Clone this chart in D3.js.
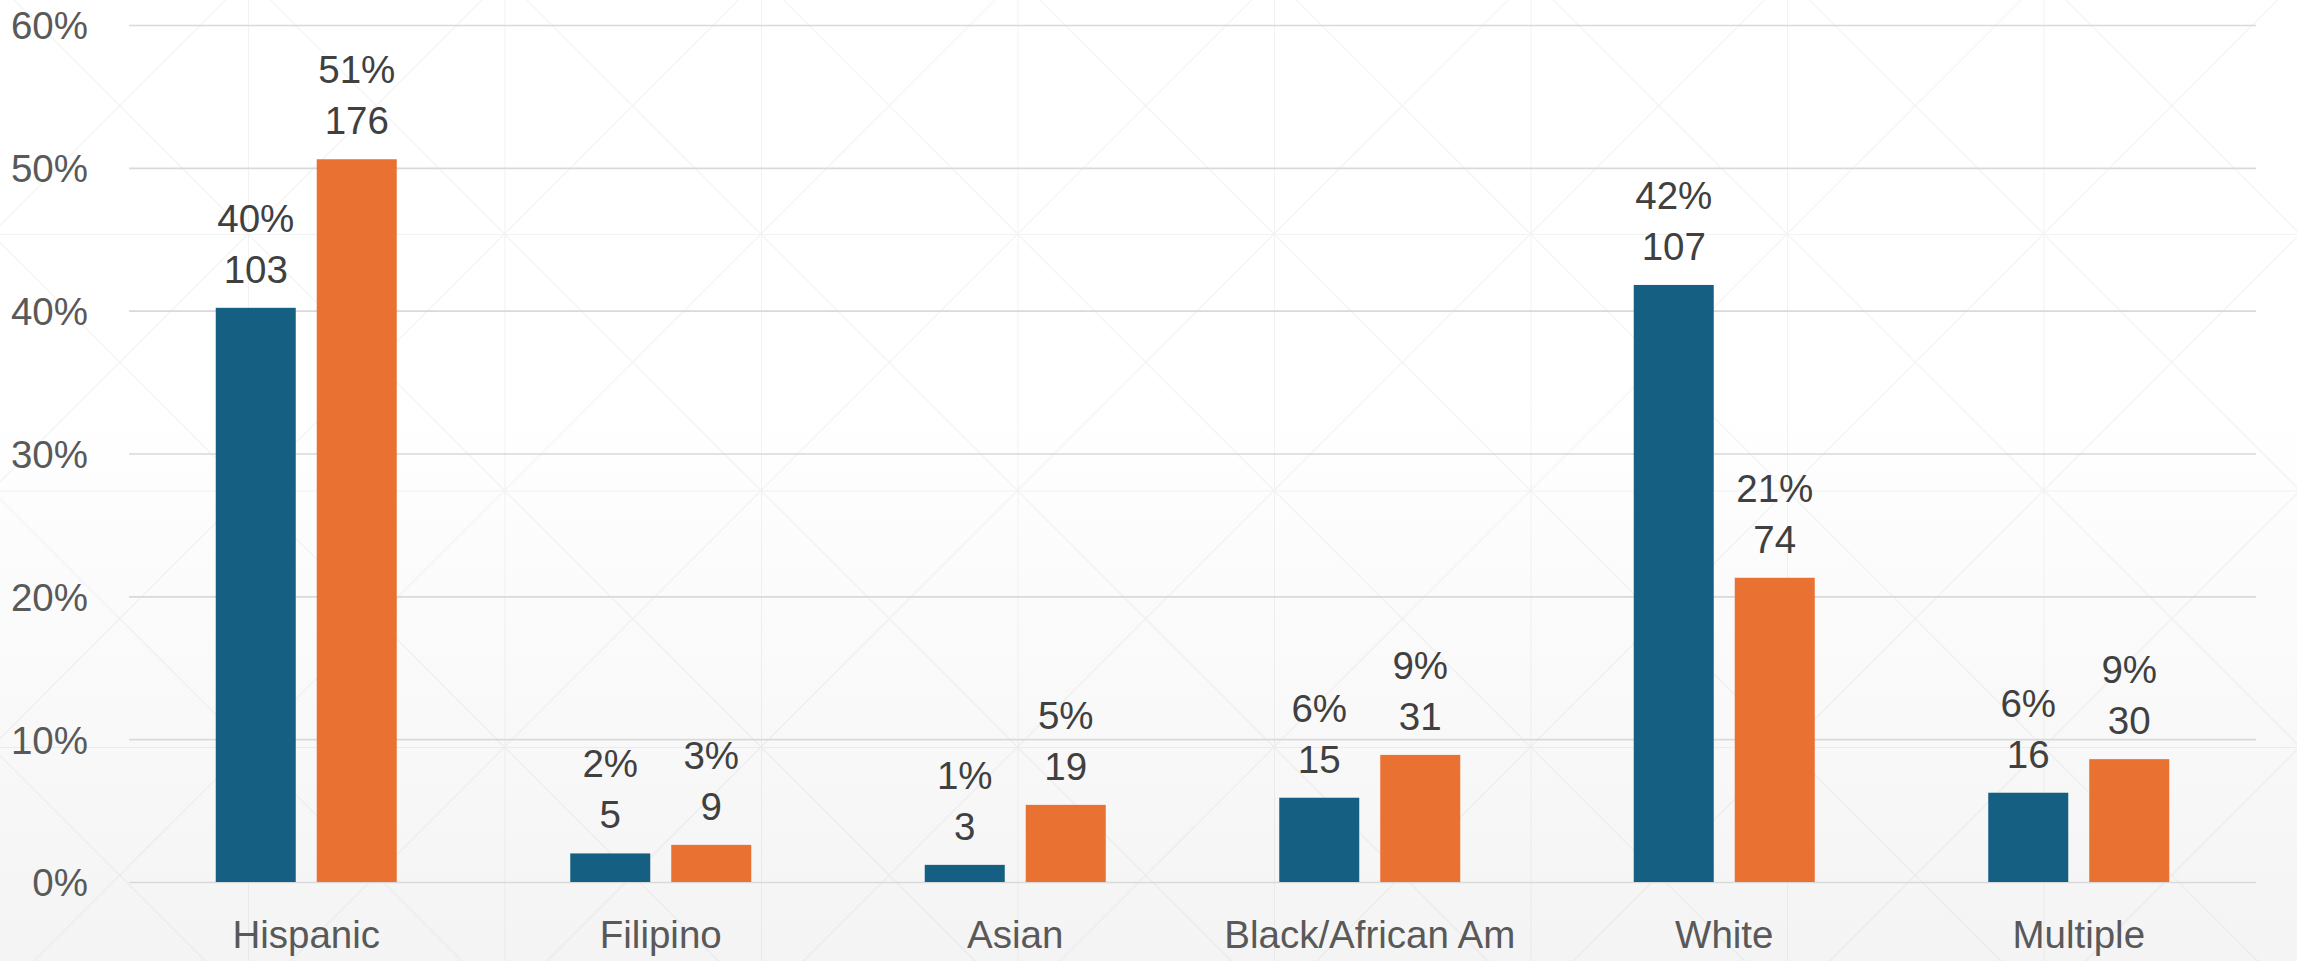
<!DOCTYPE html>
<html>
<head>
<meta charset="utf-8">
<script src="https://cdn.jsdelivr.net/npm/d3@7"></script>
<style>
  html, body { margin: 0; padding: 0; background: #ffffff; }
  svg { display: block; }
</style>
</head>
<body>
<svg id="chart" width="2297" height="961"></svg>
<script>
// ---- data ----
const categories = ["Hispanic", "Filipino", "Asian", "Black/African Am", "White", "Multiple"];
const seriesNames = ["Series 1", "Series 2"];
const series1Pct = [40.2, 2.0, 1.2, 5.9, 41.8, 6.25];   // blue bars, %
const series2Pct = [50.6, 2.6, 5.4, 8.9, 21.3, 8.6];    // orange bars, %
const series1Count = [103, 5, 3, 15, 107, 16];
const series2Count = [176, 9, 19, 31, 74, 30];
const series1Label = ["40%", "2%", "1%", "6%", "42%", "6%"];
const series2Label = ["51%", "3%", "5%", "9%", "21%", "9%"];
const yTicks = [0, 10, 20, 30, 40, 50, 60];
const yTickLabels = ["0%", "10%", "20%", "30%", "40%", "50%", "60%"];
const seriesColors = ["#156082", "#E97132"];

// ---- layout ----
const W = 2297, H = 961;
const plot = { left: 129, right: 2256, top: 25, bottom: 882 };
const svg = d3.select("#chart");
const defs = svg.append("defs");

// background gradient
const grad = defs.append("linearGradient").attr("id", "bg").attr("x1", 0).attr("y1", 0).attr("x2", 0).attr("y2", 1);
grad.append("stop").attr("offset", "0%").attr("stop-color", "#ffffff");
grad.append("stop").attr("offset", "42%").attr("stop-color", "#ffffff");
grad.append("stop").attr("offset", "100%").attr("stop-color", "#f4f4f4");
svg.append("rect").attr("width", W).attr("height", H).attr("fill", "url(#bg)");

// faint lattice texture
const cell = 256.5;
const pat = defs.append("pattern").attr("id", "lattice")
  .attr("patternUnits", "userSpaceOnUse")
  .attr("width", cell).attr("height", cell)
  .attr("x", -8.5).attr("y", -22.5);
pat.append("path")
  .attr("d", `M0,0 L${cell},${cell} M${cell},0 L0,${cell} M0.5,0 L0.5,${cell} M0,0.5 L${cell},0.5`)
  .attr("stroke", "#000").attr("stroke-opacity", 0.05).attr("stroke-width", 1).attr("fill", "none");
svg.append("rect").attr("width", W).attr("height", H).attr("fill", "url(#lattice)");

// scales
const x0 = d3.scaleBand().domain(categories).range([plot.left, plot.right]).paddingInner(0).paddingOuter(0);
const groupWidth = 181;
const x1 = d3.scaleBand().domain(seriesNames).range([0, groupWidth]).paddingInner(21 / 101).paddingOuter(0);
const y = d3.scaleLinear().domain([0, 60]).range([plot.bottom, plot.top]);

const font = "'Liberation Sans', Arial, sans-serif";
const fs = 38.5;

// gridlines
const yAxis = d3.axisLeft(y).tickValues(yTicks).tickSize(-(plot.right - plot.left))
  .tickFormat((d, i) => yTickLabels[i]).tickPadding(41);
const gy = svg.append("g").attr("transform", `translate(${plot.left},0)`).call(yAxis);
gy.select(".domain").remove();
gy.selectAll(".tick line").attr("stroke", "#d9d9d9").attr("stroke-width", 1.6);
gy.selectAll(".tick text").attr("fill", "#595959").attr("font-family", font)
  .attr("font-size", fs).attr("dy", "0.36em");

// x-axis labels
const xAxis = d3.axisBottom(x0).tickSize(0).tickPadding(39);
const gx = svg.append("g").attr("transform", `translate(0,${plot.bottom})`).call(xAxis);
gx.select(".domain").remove();
gx.selectAll(".tick text").attr("fill", "#595959").attr("font-family", font)
  .attr("font-size", fs).attr("dy", "0.71em");

// bars
const rows = categories.map((c, i) => ({
  cat: c,
  vals: [
    { s: seriesNames[0], v: series1Pct[i], n: series1Count[i], lab: series1Label[i], col: seriesColors[0] },
    { s: seriesNames[1], v: series2Pct[i], n: series2Count[i], lab: series2Label[i], col: seriesColors[1] }
  ]
}));

const groups = svg.append("g").selectAll("g.grp").data(rows).join("g")
  .attr("class", "grp")
  .attr("transform", d => `translate(${x0(d.cat) + x0.bandwidth() / 2 - groupWidth / 2},0)`);

groups.selectAll("rect").data(d => d.vals).join("rect")
  .attr("x", d => x1(d.s))
  .attr("y", d => y(d.v))
  .attr("width", x1.bandwidth())
  .attr("height", d => y(0) - y(d.v))
  .attr("fill", d => d.col);

// data labels: percent on top, count below
groups.selectAll("text.cnt").data(d => d.vals).join("text")
  .attr("class", "cnt")
  .attr("x", d => x1(d.s) + x1.bandwidth() / 2)
  .attr("y", d => y(d.v) - 25)
  .attr("text-anchor", "middle")
  .attr("font-family", font).attr("font-size", fs).attr("fill", "#404040")
  .text(d => d.n);

groups.selectAll("text.pct").data(d => d.vals).join("text")
  .attr("class", "pct")
  .attr("x", d => x1(d.s) + x1.bandwidth() / 2)
  .attr("y", d => y(d.v) - 76)
  .attr("text-anchor", "middle")
  .attr("font-family", font).attr("font-size", fs).attr("fill", "#404040")
  .text(d => d.lab);
</script>
</body>
</html>
